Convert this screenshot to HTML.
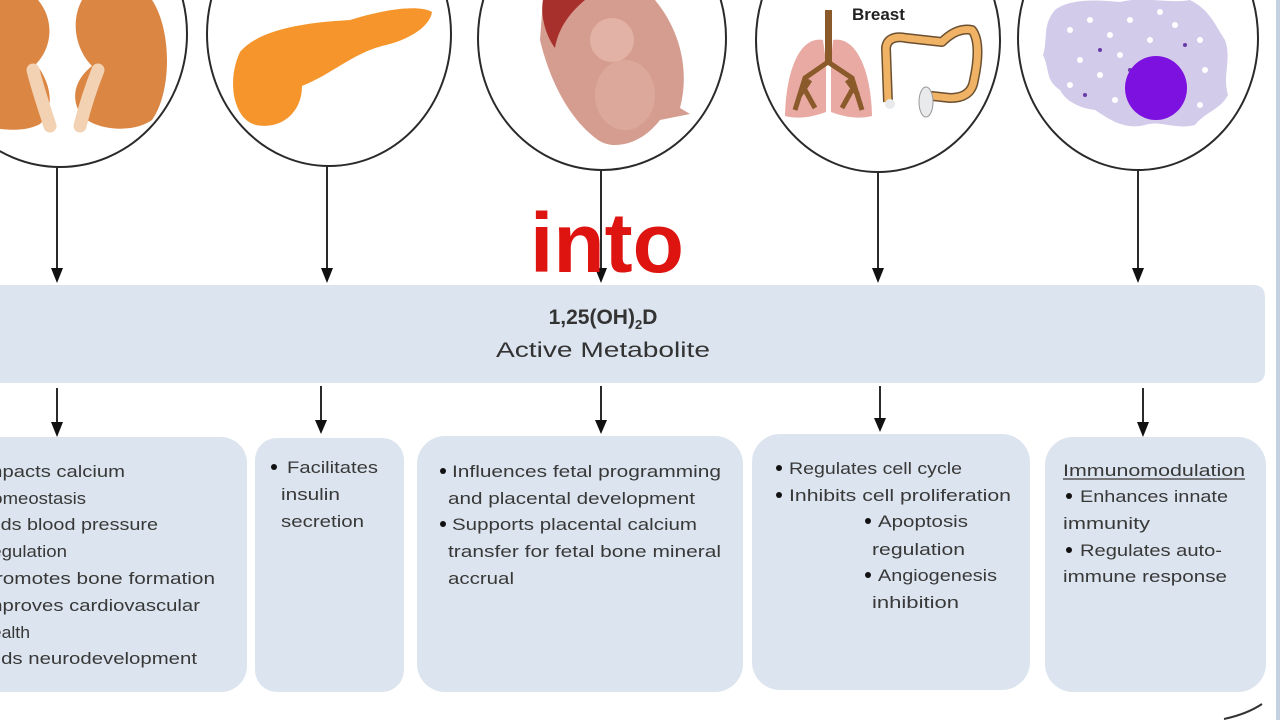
<!DOCTYPE html>
<html>
<head>
<meta charset="utf-8">
<style>
  html, body { margin:0; padding:0; background:#ffffff; }
  body { width:1280px; height:720px; overflow:hidden; position:relative; }
  svg { position:absolute; left:0; top:0; }
  .t { font-family:"Liberation Sans", sans-serif; font-size:17px; fill:#383838; }
</style>
</head>
<body>
<svg width="1280" height="720" viewBox="0 0 1280 720" xmlns="http://www.w3.org/2000/svg">
  <!-- right edge bar -->
  <rect x="1276" y="0" width="4" height="720" fill="#c3d1e1"/>

  <!-- ===== Circle 1: kidneys ===== -->
  <ellipse cx="60" cy="34" rx="127" ry="133" fill="#fff" stroke="#2a2a2a" stroke-width="2"/>
  <path d="M -40 0 L 38 0 C 55 20 52 48 36 64 C 52 84 55 110 40 124 C 22 134 -10 130 -30 120 Z" fill="#dc8644"/>
  <path d="M 82 0 L 152 0 C 172 30 172 92 152 120 C 132 134 96 130 82 116 C 70 100 74 80 92 66 C 76 50 70 22 82 0 Z" fill="#dc8644"/>
  <path d="M 33 70 C 38 90 45 110 50 126" stroke="#f2d2b2" stroke-width="13" fill="none" stroke-linecap="round"/>
  <path d="M 98 70 C 90 90 84 110 80 126" stroke="#f2d2b2" stroke-width="13" fill="none" stroke-linecap="round"/>

  <!-- ===== Circle 2: pancreas ===== -->
  <ellipse cx="329" cy="34" rx="122" ry="132" fill="#fff" stroke="#2a2a2a" stroke-width="2"/>
  <path d="M 240 52 C 262 26 318 22 350 20 C 382 10 418 4 432 12 C 430 26 410 40 382 46 C 352 54 332 74 302 86 C 302 112 282 130 256 125 C 234 120 226 82 240 52 Z" fill="#f5952c"/>

  <!-- ===== Circle 3: fetus ===== -->
  <ellipse cx="602" cy="38" rx="124" ry="132" fill="#fff" stroke="#2a2a2a" stroke-width="2"/>
  <path d="M 543 0 L 655 0 C 680 30 690 70 680 108 L 690 114 L 660 120 C 640 146 612 150 598 140 C 570 120 550 82 540 40 Z" fill="#d59d90"/>
  <path d="M 543 0 L 585 0 C 568 14 558 30 555 48 C 546 36 540 16 543 0 Z" fill="#a8302c"/>
  <ellipse cx="612" cy="40" rx="22" ry="22" fill="#e2b2a6"/>
  <ellipse cx="625" cy="95" rx="30" ry="35" fill="#dca89c"/>

  <!-- ===== Circle 4: lungs / colon ===== -->
  <ellipse cx="878" cy="40" rx="122" ry="132" fill="#fff" stroke="#2a2a2a" stroke-width="2"/>
  <text x="852" y="20" style="font-family:'Liberation Sans',sans-serif;font-weight:bold;font-size:17px;fill:#222">Breast</text>
  <path d="M 823 40 C 800 36 786 70 785 116 C 800 120 815 116 826 112 L 826 62 Z" fill="#e8aaa2"/>
  <path d="M 833 40 C 856 36 871 70 872 116 C 857 120 842 116 831 112 L 831 62 Z" fill="#e8aaa2"/>
  <rect x="825" y="10" width="7" height="55" fill="#8b5a2b"/>
  <path d="M 828 62 L 805 78 L 795 110 M 810 80 L 800 95 M 805 90 L 815 108 M 828 62 L 852 78 L 862 110 M 847 80 L 858 95 M 852 90 L 842 108" stroke="#8b5a2b" stroke-width="5" fill="none"/>
  <path d="M 888 102 L 886 48 C 887 38 896 36 906 38 L 942 42 C 952 32 962 28 972 30 C 980 40 978 62 974 80 C 972 94 962 98 950 98 L 932 96 C 926 98 926 102 926 106" stroke="#6a5030" stroke-width="10" fill="none" stroke-linejoin="round"/>
  <path d="M 888 102 L 886 48 C 887 38 896 36 906 38 L 942 42 C 952 32 962 28 972 30 C 980 40 978 62 974 80 C 972 94 962 98 950 98 L 932 96 C 926 98 926 102 926 106" stroke="#f0b265" stroke-width="7" fill="none" stroke-linejoin="round"/>
  <ellipse cx="926" cy="102" rx="7" ry="15" fill="#e8eaec" stroke="#999" stroke-width="1"/>
  <ellipse cx="890" cy="104" rx="5" ry="5" fill="#e8eaec"/>

  <!-- ===== Circle 5: cell ===== -->
  <ellipse cx="1138" cy="38" rx="120" ry="132" fill="#fff" stroke="#2a2a2a" stroke-width="2"/>
  <path d="M 1055 10 C 1070 -2 1100 0 1120 2 C 1145 -4 1170 4 1190 0 C 1210 10 1215 25 1225 40 C 1232 60 1222 75 1228 95 C 1220 110 1205 112 1195 125 C 1175 130 1160 120 1145 125 C 1125 130 1110 120 1095 110 C 1078 108 1065 100 1060 90 C 1045 80 1050 70 1043 55 C 1048 40 1042 25 1055 10 Z" fill="#d3cbea"/>
  <g fill="#ffffff">
    <circle cx="1070" cy="30" r="3"/><circle cx="1090" cy="20" r="3"/><circle cx="1110" cy="35" r="3"/>
    <circle cx="1130" cy="20" r="3"/><circle cx="1150" cy="40" r="3"/><circle cx="1175" cy="25" r="3"/>
    <circle cx="1200" cy="40" r="3"/><circle cx="1080" cy="60" r="3"/><circle cx="1100" cy="75" r="3"/>
    <circle cx="1120" cy="55" r="3"/><circle cx="1205" cy="70" r="3"/><circle cx="1200" cy="105" r="3"/>
    <circle cx="1115" cy="100" r="3"/><circle cx="1070" cy="85" r="3"/><circle cx="1160" cy="12" r="3"/>
  </g>
  <g fill="#6a3aa8">
    <circle cx="1100" cy="50" r="2"/><circle cx="1085" cy="95" r="2"/><circle cx="1130" cy="70" r="2"/>
    <circle cx="1185" cy="45" r="2"/><circle cx="1140" cy="110" r="2"/>
  </g>
  <ellipse cx="1156" cy="88" rx="31" ry="32" fill="#7d12e0"/>

  <!-- ===== Top arrows ===== -->
  <g stroke="#2a2a2a" stroke-width="2">
    <line x1="57" y1="167" x2="57" y2="270"/>
    <line x1="327" y1="166" x2="327" y2="270"/>
    <line x1="601" y1="170" x2="601" y2="270"/>
    <line x1="878" y1="172" x2="878" y2="270"/>
    <line x1="1138" y1="170" x2="1138" y2="270"/>
  </g>
  <g fill="#111">
    <polygon points="51,268 63,268 57,283"/>
    <polygon points="321,268 333,268 327,283"/>
    <polygon points="595,268 607,268 601,283"/>
    <polygon points="872,268 884,268 878,283"/>
    <polygon points="1132,268 1144,268 1138,283"/>
  </g>

  <!-- ===== Banner ===== -->
  <path d="M -10 285 L 1253 285 Q 1265 285 1265 297 L 1265 371 Q 1265 383 1253 383 L -10 383 Z" fill="#dce5ef"/>
  <text x="603" y="324" text-anchor="middle" style="font-family:'Liberation Sans',sans-serif;font-weight:bold;font-size:21px;fill:#333">1,25(OH)<tspan font-size="13" dy="5">2</tspan><tspan dy="-5">D</tspan></text>
  <text x="496" y="357" textLength="214" lengthAdjust="spacingAndGlyphs" style="font-family:'Liberation Sans',sans-serif;font-size:21px;fill:#333">Active Metabolite</text>

  <!-- ===== Bottom arrows ===== -->
  <g stroke="#2a2a2a" stroke-width="2">
    <line x1="57" y1="388" x2="57" y2="424"/>
    <line x1="321" y1="386" x2="321" y2="422"/>
    <line x1="601" y1="386" x2="601" y2="422"/>
    <line x1="880" y1="386" x2="880" y2="420"/>
    <line x1="1143" y1="388" x2="1143" y2="424"/>
  </g>
  <g fill="#111">
    <polygon points="51,422 63,422 57,437"/>
    <polygon points="315,420 327,420 321,434"/>
    <polygon points="595,420 607,420 601,434"/>
    <polygon points="874,418 886,418 880,432"/>
    <polygon points="1137,422 1149,422 1143,437"/>
  </g>

  <!-- ===== Bottom boxes ===== -->
  <g fill="#dce5ef">
    <rect x="-30" y="437" width="277" height="255" rx="26"/>
    <rect x="255" y="438" width="149" height="254" rx="22"/>
    <rect x="417" y="436" width="326" height="256" rx="28"/>
    <rect x="752" y="434" width="278" height="256" rx="28"/>
    <rect x="1045" y="437" width="221" height="255" rx="28"/>
  </g>

  <!-- Box 1 text (left part clipped by viewport) -->
  <text class="t" x="-20" y="477" textLength="145" lengthAdjust="spacingAndGlyphs">Impacts calcium</text>
  <text class="t" x="-18" y="504" textLength="104" lengthAdjust="spacingAndGlyphs">homeostasis</text>
  <text class="t" x="-17" y="530" textLength="175" lengthAdjust="spacingAndGlyphs">Aids blood pressure</text>
  <text class="t" x="-15" y="557" textLength="82" lengthAdjust="spacingAndGlyphs">regulation</text>
  <text class="t" x="-18" y="584" textLength="233" lengthAdjust="spacingAndGlyphs">Promotes bone formation</text>
  <text class="t" x="-20" y="611" textLength="220" lengthAdjust="spacingAndGlyphs">Improves cardiovascular</text>
  <text class="t" x="-18" y="638" textLength="48" lengthAdjust="spacingAndGlyphs">health</text>
  <text class="t" x="-17" y="664" textLength="214" lengthAdjust="spacingAndGlyphs">Aids neurodevelopment</text>

  <!-- Box 2 text -->
  <circle cx="274" cy="467" r="3" fill="#111"/>
  <text class="t" x="287" y="473" textLength="91" lengthAdjust="spacingAndGlyphs">Facilitates</text>
  <text class="t" x="281" y="500" textLength="59" lengthAdjust="spacingAndGlyphs">insulin</text>
  <text class="t" x="281" y="527" textLength="83" lengthAdjust="spacingAndGlyphs">secretion</text>

  <!-- Box 3 text -->
  <circle cx="443" cy="471" r="3" fill="#111"/>
  <text class="t" x="452" y="477" textLength="269" lengthAdjust="spacingAndGlyphs">Influences fetal programming</text>
  <text class="t" x="448" y="504" textLength="247" lengthAdjust="spacingAndGlyphs">and placental development</text>
  <circle cx="443" cy="524" r="3" fill="#111"/>
  <text class="t" x="452" y="530" textLength="245" lengthAdjust="spacingAndGlyphs">Supports placental calcium</text>
  <text class="t" x="448" y="557" textLength="273" lengthAdjust="spacingAndGlyphs">transfer for fetal bone mineral</text>
  <text class="t" x="448" y="584" textLength="66" lengthAdjust="spacingAndGlyphs">accrual</text>

  <!-- Box 4 text -->
  <circle cx="779" cy="468" r="3" fill="#111"/>
  <text class="t" x="789" y="474" textLength="173" lengthAdjust="spacingAndGlyphs">Regulates cell cycle</text>
  <circle cx="779" cy="495" r="3" fill="#111"/>
  <text class="t" x="789" y="501" textLength="222" lengthAdjust="spacingAndGlyphs">Inhibits cell proliferation</text>
  <circle cx="868" cy="521" r="3" fill="#111"/>
  <text class="t" x="878" y="527" textLength="90" lengthAdjust="spacingAndGlyphs">Apoptosis</text>
  <text class="t" x="872" y="555" textLength="93" lengthAdjust="spacingAndGlyphs">regulation</text>
  <circle cx="868" cy="575" r="3" fill="#111"/>
  <text class="t" x="878" y="581" textLength="119" lengthAdjust="spacingAndGlyphs">Angiogenesis</text>
  <text class="t" x="872" y="608" textLength="87" lengthAdjust="spacingAndGlyphs">inhibition</text>

  <!-- Box 5 text -->
  <text class="t" x="1063" y="476" textLength="182" lengthAdjust="spacingAndGlyphs">Immunomodulation</text>
  <line x1="1063" y1="479" x2="1245" y2="479" stroke="#383838" stroke-width="1.2"/>
  <circle cx="1069" cy="496" r="3" fill="#111"/>
  <text class="t" x="1080" y="502" textLength="148" lengthAdjust="spacingAndGlyphs">Enhances innate</text>
  <text class="t" x="1063" y="529" textLength="87" lengthAdjust="spacingAndGlyphs">immunity</text>
  <circle cx="1069" cy="550" r="3" fill="#111"/>
  <text class="t" x="1080" y="556" textLength="142" lengthAdjust="spacingAndGlyphs">Regulates auto-</text>
  <text class="t" x="1063" y="582" textLength="164" lengthAdjust="spacingAndGlyphs">immune response</text>

  <!-- Red overlay word -->
  <text x="530" y="272" style="font-family:'Liberation Sans',sans-serif;font-weight:bold;font-size:84px;fill:#de1410">into</text>

  <!-- bottom-right squiggle -->
  <path d="M 1224 719 C 1238 716 1250 712 1262 704" stroke="#333" stroke-width="2" fill="none"/>
</svg>
</body>
</html>
